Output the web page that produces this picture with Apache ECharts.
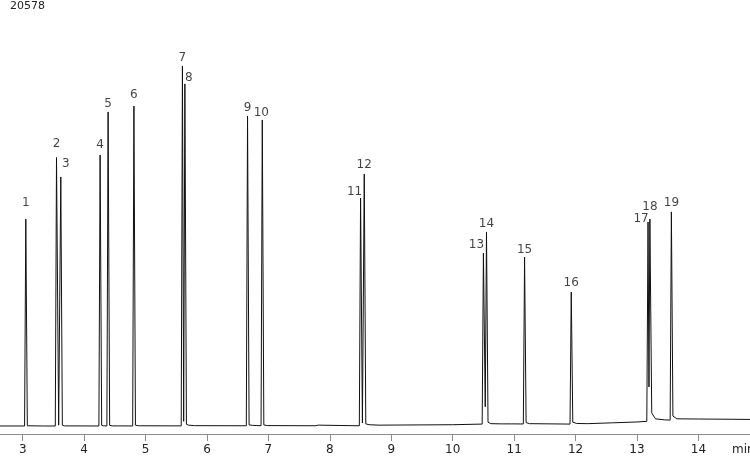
<!DOCTYPE html>
<html>
<head>
<meta charset="utf-8">
<script src="https://cdn.jsdelivr.net/npm/echarts@6/dist/echarts.min.js"></script>
<style>
html, body { margin: 0; padding: 0; background: #fff; }
#chart { width: 750px; height: 456px; }
</style>
</head>
<body>
<div id="chart"></div>
<script>
// peaks: number, retention time (min), apex signal
var peakNames = ['1', '2', '3', '4', '5', '6', '7', '8', '9', '10',
                 '11', '12', '13', '14', '15', '16', '17', '18', '19'];
var peakTimes = [3.05, 3.55, 3.62, 4.26, 4.39, 4.81, 5.60, 5.64, 6.66, 6.90,
                 8.50, 8.56, 10.50, 10.55, 11.17, 11.93, 13.18, 13.21, 13.56];
var peakHeights = [10190, 13110, 12190, 13230, 15270, 15550, 17450, 16600, 15080, 14890,
                   11190, 12330, 8580, 9580, 8390, 6730, 10050, 10190, 10530];

// baseline, valleys and peak feet (min, signal)
var tracePoints = [
  [2.63, 380], [3.03, 380], [3.075, 390], [3.10, 380],
  [3.34, 380], [3.36, 430], [3.38, 380],
  [3.53, 380], [3.585, 420], [3.645, 420], [3.68, 385],
  [4.24, 380], [4.285, 410], [4.32, 385],
  [4.37, 385], [4.415, 410], [4.46, 385],
  [4.52, 385], [4.54, 420], [4.56, 385],
  [4.79, 380], [4.835, 420], [4.88, 390], [4.92, 390], [4.935, 440], [4.95, 385],
  [5.58, 385], [5.62, 600], [5.665, 460], [5.70, 420], [5.80, 395],
  [6.64, 390], [6.685, 430], [6.74, 410], [6.77, 440], [6.80, 400],
  [6.88, 395], [6.925, 430], [6.98, 400],
  [7.76, 390], [7.79, 480], [7.81, 420], [7.84, 395],
  [8.48, 390], [8.53, 520], [8.585, 480], [8.64, 440], [8.80, 420],
  [10.0, 440], [10.48, 470],
  [10.53, 1290], [10.575, 560], [10.62, 490], [10.80, 480],
  [10.96, 480], [10.98, 570], [11.0, 480],
  [11.15, 475], [11.195, 540], [11.25, 490],
  [11.91, 470], [11.955, 560], [12.02, 500], [12.20, 490],
  [12.60, 530], [13.0, 570], [13.16, 600],
  [13.195, 2230], [13.24, 1000], [13.30, 720], [13.45, 670], [13.54, 660],
  [13.585, 850], [13.65, 720], [14.0, 710], [14.5, 700], [14.84, 690]
];

var tickValues = [3, 4, 5, 6, 7, 8, 9, 10, 11, 12, 13, 14];
var signalMax = 20578;

// label nudges in px (dx, dy) relative to the apex
var labelOffsets = [[0, -16], [0, -14], [5, -13], [0, -10], [0, -8], [0, -11], [0, -8], [4, -6],
                    [0, -8], [-1, -7], [-6, -6], [0, -9], [-7, -8], [0, -8], [0, -7], [0, -9],
                    [-7, -3], [0, -12], [0, -9]];

var FONT = 'DejaVu Sans';

var trace = tracePoints.slice();
for (var i = 0; i < peakTimes.length; i++) {
    trace.push([peakTimes[i], peakHeights[i]]);
}
trace.sort(function (a, b) { return a[0] - b[0]; });

var labelData = [];
for (var j = 0; j < peakTimes.length; j++) {
    labelData.push({
        value: [peakTimes[j], peakHeights[j]],
        name: peakNames[j],
        label: { offset: labelOffsets[j] }
    });
}

var myChart = echarts.init(document.getElementById('chart'));
var option = {
    animation: false,
    backgroundColor: '#fff',
    grid: { left: 0, right: 0, top: 0, bottom: 22, outerBoundsMode: 'none' },
    xAxis: {
        type: 'value',
        min: 2.63,
        max: 14.84,
        axisLine: { lineStyle: { color: '#8c8c8c', width: 1 } },
        axisTick: { show: true, length: 7, customValues: tickValues, lineStyle: { color: '#8c8c8c' } },
        axisLabel: {
            customValues: tickValues, margin: 10, color: '#222',
            fontFamily: FONT, fontSize: 12
        },
        splitLine: { show: false }
    },
    yAxis: { type: 'value', min: 0, max: signalMax, show: false },
    graphic: [
        { type: 'text', x: 10, y: 6, style: { text: String(signalMax), font: '11px ' + FONT, fill: '#222', textVerticalAlign: 'middle' } },
        { type: 'text', x: 732, y: 450, style: { text: 'min', font: '12px ' + FONT, fill: '#222', textVerticalAlign: 'middle' } }
    ],
    series: [
        {
            type: 'line',
            data: trace,
            showSymbol: false,
            symbol: 'none',
            sampling: null,
            lineStyle: { color: '#111', width: 1 },
            silent: true
        },
        {
            type: 'scatter',
            data: labelData,
            symbolSize: 0,
            silent: true,
            z: 5,
            label: {
                show: true,
                position: 'inside',
                formatter: function (p) { return p.name; },
                color: '#111',
                fontFamily: FONT,
                fontSize: 12
            }
        }
    ]
};
myChart.setOption(option);
</script>
</body>
</html>
